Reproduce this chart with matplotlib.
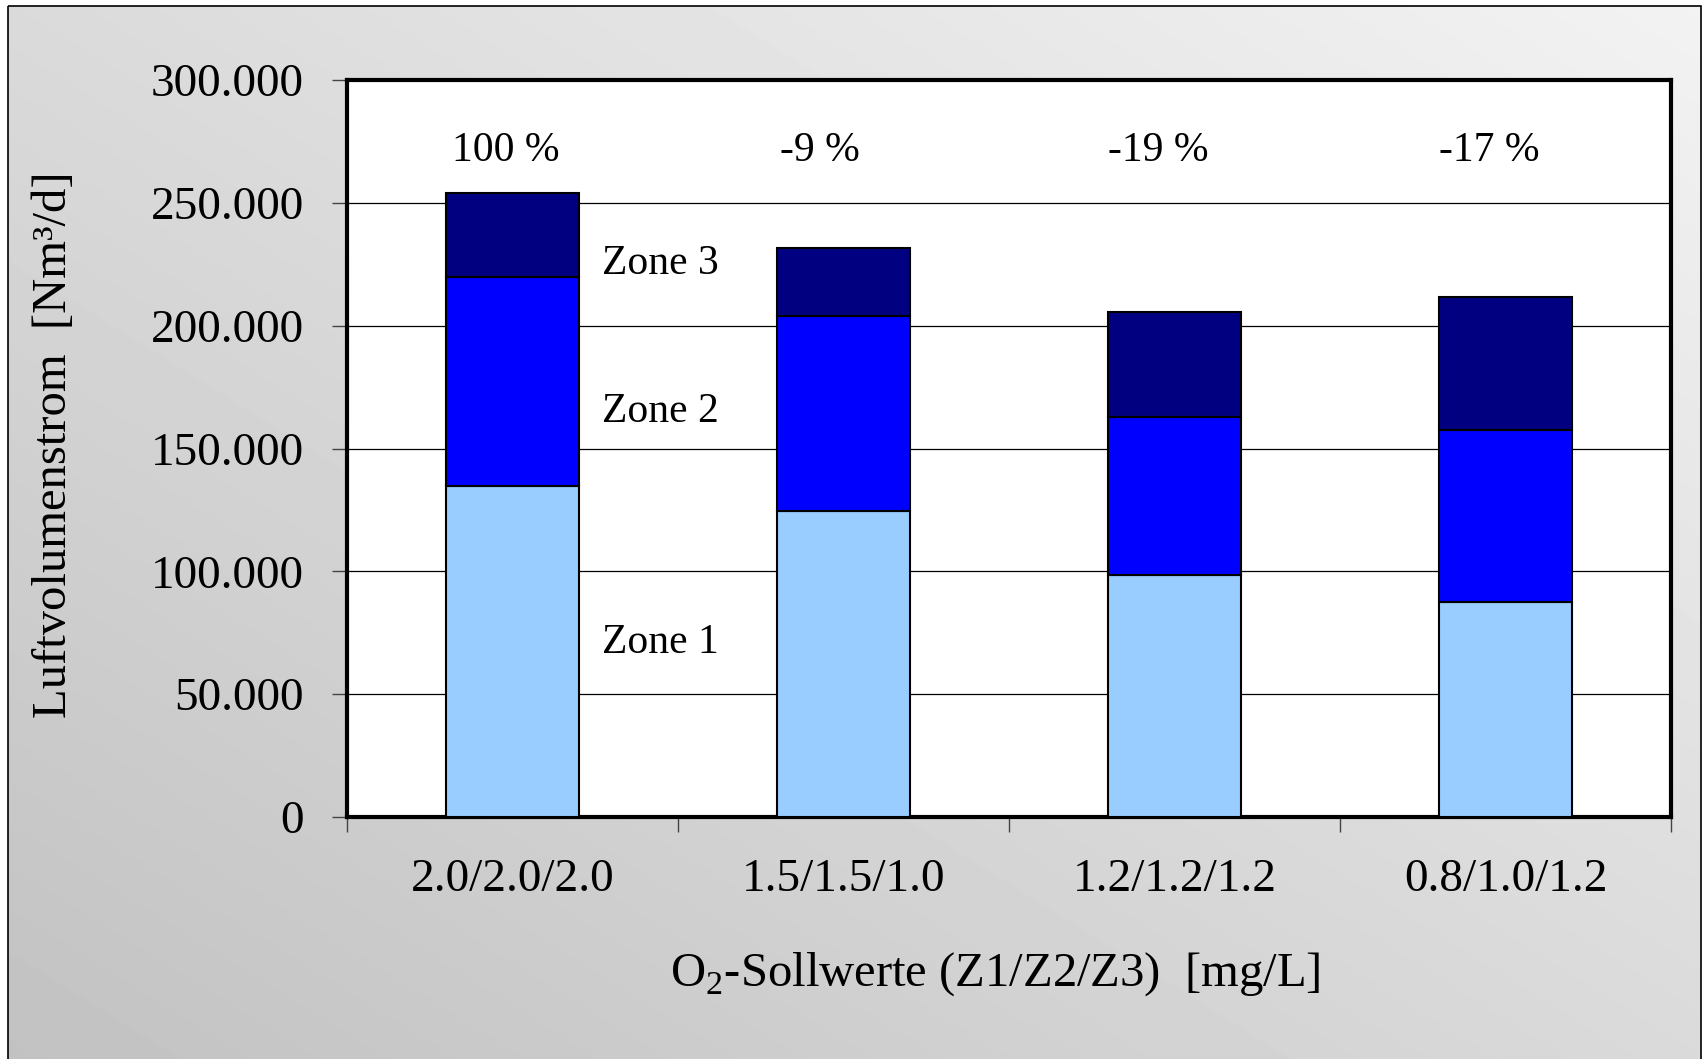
import matplotlib
matplotlib.use("Agg")
import matplotlib.pyplot as plt
import numpy as np
from matplotlib.patches import Rectangle

plt.rcParams['font.family'] = ['Liberation Serif', 'DejaVu Serif']
plt.rcParams['mathtext.fontset'] = 'custom'
plt.rcParams['mathtext.rm'] = 'Liberation Serif'

# air flow per aeration zone, Nm3/d
categories = ['2.0/2.0/2.0', '1.5/1.5/1.0', '1.2/1.2/1.2', '0.8/1.0/1.2']
zone1 = [134700, 124700, 98500, 87600]
zone2 = [85000, 79200, 64200, 69900]
zone3 = [34200, 27800, 43000, 54300]
zone_names = ['Zone 1', 'Zone 2', 'Zone 3']
colors = ['#99CCFF', '#0000FF', '#000080']

W, H = 1703, 1059
fig = plt.figure(figsize=(W / 100, H / 100), dpi=100)

# grey gradient backdrop with thin frame
bg = fig.add_axes([0, 0, 1, 1], zorder=-10)
bg.set_xlim(0, W)
bg.set_ylim(H, 0)
bg.axis('off')
gx, gy = np.meshgrid(np.linspace(0, 1, 300), np.linspace(0, 1, 200))
t = (gx + (1 - gy)) / 2
shade = 0.76 + 0.19 * t
bg.imshow(shade, cmap='gray', vmin=0, vmax=1, extent=[8, 1701, H + 2, 6],
          aspect='auto', interpolation='bilinear')
bg.add_patch(Rectangle((8, 6), 1693, H + 10, fill=False, ec='black', lw=1.2))

ax = fig.add_axes([347 / W, 1 - 817 / H, 1324 / W, 737 / H])
ax.set_facecolor('white')

x = np.arange(len(categories))
bottom = np.zeros(len(categories))
for vals, col in zip([zone1, zone2, zone3], colors):
    ax.bar(x, vals, width=0.4, bottom=bottom, color=col, edgecolor='black',
           linewidth=1.5, zorder=3)
    bottom += np.array(vals)

totals = bottom
ax.set_xlim(-0.5, len(categories) - 0.5)
ax.set_ylim(0, 300000)
yticks = np.arange(0, 300001, 50000)
ax.set_yticks(yticks)
ax.set_yticklabels(['0' if v == 0 else f'{v // 1000}.000' for v in yticks])
ax.yaxis.grid(True, color='black', linewidth=0.9, zorder=0)
ax.set_axisbelow(True)

ax.set_xticks(x)
ax.set_xticklabels(categories)
ax.set_xticks(np.arange(-0.5, len(categories)), minor=True)
ax.tick_params(axis='x', which='major', length=0, pad=30, labelsize=34)
ax.tick_params(axis='x', which='minor', length=11, width=1, color='#444444',
               direction='out')
ax.tick_params(axis='y', length=11, width=1, color='#444444', pad=20,
               labelsize=34, direction='out')
for s in ax.spines.values():
    s.set_linewidth(3)
    s.set_color('black')

# relative change of total air flow
offsets = [-0.02, -0.07, -0.05, -0.05]
for i, tot in enumerate(totals):
    if i == 0:
        lab = '100 %'
    else:
        lab = f'{round((tot / totals[0] - 1) * 100):d} %'
    ax.text(x[i] + offsets[i], 271000, lab, ha='center', va='center',
            fontsize=30)

zone_y = [71000, 165000, 225000]
for name, yy in zip(zone_names, zone_y):
    ax.text(0.27, yy, name, ha='left', va='center', fontsize=30)

fig.text(54 / W, 1 - 445 / H, 'Luftvolumenstrom  [Nm³/d]', rotation=90,
         ha='center', va='center', fontsize=35)
fig.text(995 / W, 1 - 974 / H, r'O$_\mathrm{2}$-Sollwerte (Z1/Z2/Z3)  [mg/L]',
         ha='center', va='center', fontsize=35)

fig.savefig('out.png', dpi=100)
